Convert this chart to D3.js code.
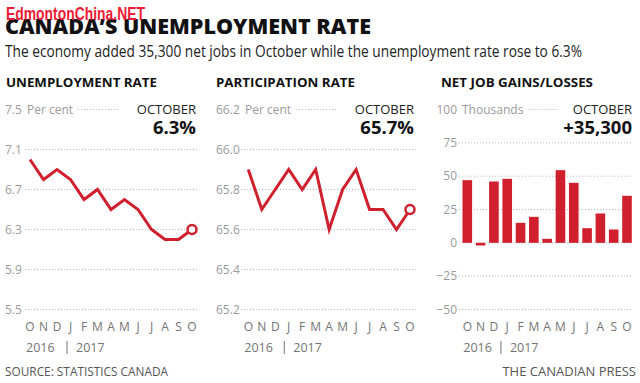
<!DOCTYPE html>
<html>
<head>
<meta charset="utf-8">
<script src="https://cdn.jsdelivr.net/npm/d3@7"></script>
<style>
  html, body { margin: 0; padding: 0; background: #fff; }
  svg { display: block; font-family: "Open Sans", "Noto Sans", sans-serif; }
</style>
</head>
<body>
<svg id="chart" width="640" height="383"></svg>
<script>
// ---- Data ----
const months = ["O","N","D","J","F","M","A","M","J","J","A","S","O"];
const monthIndex = d3.range(months.length);
const unemployment = [7.0, 6.8, 6.9, 6.8, 6.6, 6.7, 6.5, 6.6, 6.5, 6.3, 6.2, 6.2, 6.3];
const participation = [65.9, 65.7, 65.8, 65.9, 65.8, 65.9, 65.6, 65.8, 65.9, 65.7, 65.7, 65.6, 65.7];
const netJobs = [47, -2, 46, 48, 15, 19.5, 3, 54.5, 45, 11, 22, 10, 35.3];
const unempTicks = [7.5, 7.1, 6.7, 6.3, 5.9, 5.5];
const partTicks = [66.2, 66.0, 65.8, 65.6, 65.4, 65.2];
const jobTicks = [100, 75, 50, 25, 0, -25, -50];
const years = ["2016", "2017"];

const RED = "#d01f2d";
const GRID = "#b5b5b5";
const TICK = "#9b9b9b";

const svg = d3.select("#chart");

// ---- Header ----
svg.append("text").attr("x", 5).attr("y", 34)
  .attr("font-size", 21).attr("font-weight", 800).attr("fill", "#111")
  .attr("textLength", 366).attr("lengthAdjust", "spacingAndGlyphs")
  .text("CANADA\u2019S UNEMPLOYMENT RATE");
svg.append("text").attr("x", 6).attr("y", 20)
  .attr("font-family", "'Liberation Sans Narrow', 'Liberation Sans', sans-serif")
  .attr("font-size", 18).attr("font-weight", 700).attr("fill", "#ee1b36")
  .attr("textLength", 139).attr("lengthAdjust", "spacingAndGlyphs")
  .text("EdmontonChina.NET");
svg.append("text").attr("x", 5).attr("y", 57)
  .attr("font-size", 15.5).attr("fill", "#222")
  .attr("textLength", 577).attr("lengthAdjust", "spacingAndGlyphs")
  .text("The economy added 35,300 net jobs in October while the unemployment rate rose to 6.3%");

// ---- Panel builder ----
function panel(cfg) {
  const g = svg.append("g");
  const y = d3.scaleLinear().domain(cfg.domain).range([309.5, 109.5]);
  const x = d3.scalePoint().domain(monthIndex).range(cfg.xRange);

  // title
  g.append("text").attr("x", cfg.titleX).attr("y", 87)
    .attr("font-size", 13).attr("font-weight", 700).attr("fill", "#111")
    .attr("textLength", cfg.titleW).attr("lengthAdjust", "spacingAndGlyphs")
    .text(cfg.title);

  // tick labels
  const topTick = cfg.ticks[0];
  g.selectAll("text.tick").data(cfg.ticks).join("text")
    .attr("class", "tick")
    .attr("x", cfg.labelX)
    .attr("y", d => y(d))
    .attr("dy", "0.35em")
    .attr("text-anchor", cfg.labelAnchor)
    .attr("font-size", 12).attr("fill", TICK)
    .text(cfg.fmt);

  // unit label
  const unit = g.append("text").attr("x", cfg.unitX).attr("y", y(topTick)).attr("dy", "0.35em")
    .attr("font-size", 12).attr("fill", TICK).text(cfg.unit);

  // gridlines
  g.selectAll("line.grid").data(cfg.ticks.slice(1)).join("line")
    .attr("class", "grid")
    .attr("x1", cfg.gridX1).attr("x2", cfg.gridX2)
    .attr("y1", d => y(d)).attr("y2", d => y(d))
    .attr("stroke", GRID).attr("stroke-width", 1).attr("stroke-dasharray", "1,2");
  const ub = unit.node().getBBox();
  g.append("line")
    .attr("x1", ub.x + ub.width + 5).attr("x2", cfg.topGridX2)
    .attr("y1", y(topTick)).attr("y2", y(topTick))
    .attr("stroke", GRID).attr("stroke-width", 1).attr("stroke-dasharray", "1,2");

  // October callout
  g.append("text").attr("x", cfg.rightX).attr("y", 113.5).attr("text-anchor", "end")
    .attr("font-size", 13).attr("fill", "#222").text("OCTOBER");
  g.append("text").attr("x", cfg.rightX).attr("y", 133.5).attr("text-anchor", "end")
    .attr("font-size", 18.5).attr("font-weight", 700).attr("fill", "#111").text(cfg.callout);

  // month labels
  g.selectAll("text.month").data(monthIndex).join("text")
    .attr("class", "month")
    .attr("x", i => x(i)).attr("y", 330.5)
    .attr("text-anchor", "middle")
    .attr("font-size", 12).attr("fill", "#747474")
    .text(i => months[i]);

  // year labels
  const sepX = x(2) + cfg.sepOff;
  g.append("text").attr("x", x(0) - 4).attr("y", 352)
    .attr("font-size", 12.5).attr("fill", "#747474").text(years[0]);
  g.append("line").attr("x1", sepX).attr("x2", sepX).attr("y1", 341).attr("y2", 354)
    .attr("stroke", "#747474").attr("stroke-width", 1);
  g.append("text").attr("x", sepX + 9).attr("y", 352)
    .attr("font-size", 12.5).attr("fill", "#747474").text(years[1]);

  return { g, x, y };
}

// ---- Unemployment ----
const p1 = panel({
  title: "UNEMPLOYMENT RATE", titleX: 6, titleW: 151,
  domain: [5.5, 7.5], ticks: unempTicks, fmt: d => d.toFixed(1),
  labelX: 5, labelAnchor: "start", unit: "Per cent", unitX: 27,
  gridX1: 25, gridX2: 198, topGridX2: 119, rightX: 196,
  callout: "6.3%", xRange: [30, 192], sepOff: 10
});
p1.g.append("path").datum(unemployment)
  .attr("fill", "none").attr("stroke", RED).attr("stroke-width", 3)
  .attr("stroke-linejoin", "miter")
  .attr("d", d3.line().x((d, i) => p1.x(i)).y(d => p1.y(d)));
p1.g.append("circle")
  .attr("cx", p1.x(12)).attr("cy", p1.y(unemployment[12])).attr("r", 4.5)
  .attr("fill", "#fff").attr("stroke", RED).attr("stroke-width", 2.5);

// ---- Participation ----
const p2 = panel({
  title: "PARTICIPATION RATE", titleX: 216, titleW: 139,
  domain: [65.2, 66.2], ticks: partTicks, fmt: d => d.toFixed(1),
  labelX: 216, labelAnchor: "start", unit: "Per cent", unitX: 245,
  gridX1: 241, gridX2: 417, topGridX2: 338, rightX: 414,
  callout: "65.7%", xRange: [248.3, 410], sepOff: 9
});
p2.g.append("path").datum(participation)
  .attr("fill", "none").attr("stroke", RED).attr("stroke-width", 3)
  .attr("d", d3.line().x((d, i) => p2.x(i)).y(d => p2.y(d)));
p2.g.append("circle")
  .attr("cx", p2.x(12)).attr("cy", p2.y(participation[12])).attr("r", 4.5)
  .attr("fill", "#fff").attr("stroke", RED).attr("stroke-width", 2.5);

// ---- Net job gains ----
const p3 = panel({
  title: "NET JOB GAINS/LOSSES", titleX: 441, titleW: 152,
  domain: [-50, 100], ticks: jobTicks, fmt: d => d3.format("d")(d),
  labelX: 457, labelAnchor: "end", unit: "Thousands", unitX: 462,
  gridX1: 459, gridX2: 633, topGridX2: 559, rightX: 632,
  callout: "+35,300", xRange: [467.3, 627], sepOff: 7
});
const barW = 9.6;
p3.g.selectAll("rect.bar").data(netJobs).join("rect")
  .attr("class", "bar")
  .attr("x", (d, i) => p3.x(i) - barW / 2)
  .attr("width", barW)
  .attr("y", d => p3.y(Math.max(0, d)))
  .attr("height", d => Math.abs(p3.y(d) - p3.y(0)))
  .attr("fill", RED);

// ---- Footer ----
svg.append("text").attr("x", 5).attr("y", 376)
  .attr("font-size", 13).attr("fill", "#555")
  .attr("textLength", 163).attr("lengthAdjust", "spacingAndGlyphs")
  .text("SOURCE: STATISTICS CANADA");
svg.append("text").attr("x", 636).attr("y", 376).attr("text-anchor", "end")
  .attr("font-size", 13).attr("fill", "#555")
  .text("THE CANADIAN PRESS");
</script>
</body>
</html>
